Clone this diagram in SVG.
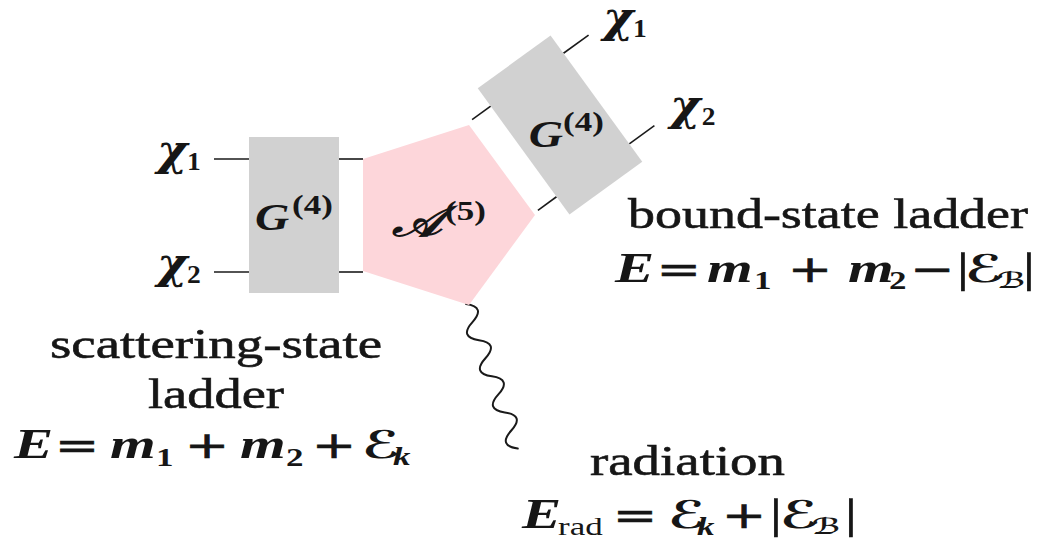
<svg xmlns="http://www.w3.org/2000/svg" width="1048" height="540" viewBox="0 0 1048 540">
<style>
.box{fill:#d1d1d1}
.amp{fill:#fdd6da}
.leg{stroke:#1a1a1a;stroke-width:1.6;fill:none}
.wave{stroke:#1a1a1a;stroke-width:2;fill:none;stroke-linecap:round}
text{fill:#161616}
.txt{font-family:'Liberation Serif',serif;font-size:43px;stroke:#161616;stroke-width:0.6}
.eq{font-family:'Liberation Serif',serif;font-size:42px}
.mi{font-family:'Liberation Serif',serif;font-style:italic;font-weight:bold}
.chi{font-family:'DejaVu Serif',serif;font-style:italic;font-weight:bold}
.op{font-family:'DejaVu Sans',sans-serif;font-weight:normal;font-style:normal;font-size:38px;stroke:#161616;stroke-width:0.6}
.sub{font-size:25px}
.cal{font-family:'DejaVu Serif','DejaVu Sans',serif;font-weight:bold;font-style:normal;font-size:38px}
.calsub{font-family:'DejaVu Serif','DejaVu Sans',serif;font-weight:bold;font-style:normal;font-size:22px}
.up{font-family:'Liberation Serif',serif;font-style:normal;font-weight:bold}
.rm{font-family:'Liberation Serif',serif;font-style:normal;font-weight:normal}
.bar{font-family:'Liberation Serif',serif;font-style:normal;font-weight:normal;stroke:#161616;stroke-width:0.6}
</style>
<g id="connectors">
<line class="leg" x1="214" y1="159" x2="249" y2="159"/>
<line class="leg" x1="214" y1="272" x2="249" y2="272"/>
<line class="leg" x1="339" y1="159" x2="363" y2="159"/>
<line class="leg" x1="339" y1="272" x2="363" y2="272"/>
<g transform="translate(560,125) rotate(-36)">
<line class="leg" x1="-68" y1="-56" x2="-45" y2="-56"/>
<line class="leg" x1="-68" y1="56" x2="-45" y2="56"/>
<line class="leg" x1="45" y1="-56" x2="76" y2="-56"/>
<line class="leg" x1="45" y1="56" x2="76" y2="56"/>
</g>
<path id="radiation-line" class="wave" transform="translate(466,304) rotate(70.3)" d="M0,0 q9.6,-18 19.2,0 t19.2,0 t19.2,0 t19.2,0 t19.2,0 t19.2,0 t19.2,0 t19.2,0"/>
</g>
<g id="G-left">
<rect class="box" x="249" y="137" width="90" height="156"/>
<text class="eq" transform="scale(1.25 1)"><tspan class="mi" x="204" y="230" font-size="38">G</tspan><tspan class="up" x="233.6" y="214" font-size="28">(4)</tspan></text>
</g>
<g id="amplitude">
<polygon class="amp" points="363,159 469,125 535,215 469,305 363,271"/>
<text class="eq" transform="scale(1.25 1)"><tspan class="mi" x="314" y="236" font-size="42">𝒜</tspan><tspan class="up" x="356" y="220" font-size="28">(5)</tspan></text>
</g>
<g id="G-right">
<rect class="box" transform="translate(560,125) rotate(-36)" x="-45" y="-78" width="90" height="156"/>
<text class="eq" transform="scale(1.25 1)"><tspan class="mi" x="423" y="147" font-size="38">G</tspan><tspan class="up" x="450.4" y="131" font-size="28">(4)</tspan></text>
</g>
<g id="particle-labels">
<text class="eq" transform="scale(1.1 1)"><tspan class="chi" x="142.7" y="165">χ</tspan><tspan class="up sub" x="170" y="170">1</tspan></text>
<text class="eq" transform="scale(1.1 1)"><tspan class="chi" x="142.7" y="278">χ</tspan><tspan class="up sub" x="170" y="283">2</tspan></text>
<text class="eq" transform="scale(1.1 1)"><tspan class="chi" x="548.2" y="32">χ</tspan><tspan class="up sub" x="575.5" y="37">1</tspan></text>
<text class="eq" transform="scale(1.1 1)"><tspan class="chi" x="609.1" y="120">χ</tspan><tspan class="up sub" x="638" y="125">2</tspan></text>
</g>
<g id="scattering-label">
<text class="txt" x="50" y="358" textLength="332" lengthAdjust="spacingAndGlyphs">scattering-state</text>
<text class="txt" x="148" y="408" textLength="136" lengthAdjust="spacingAndGlyphs">ladder</text>
<text class="eq" transform="scale(1.4 1)"><tspan class="mi" x="10" y="458">E</tspan><tspan class="op" x="39.1" y="458">=</tspan><tspan class="mi" x="78.6" y="458">m</tspan><tspan class="up sub" x="111.4" y="466">1</tspan><tspan class="op" x="131.9" y="458">+</tspan><tspan class="mi" x="171.4" y="458">m</tspan><tspan class="up sub" x="204.3" y="466">2</tspan><tspan class="op" x="222.6" y="458">+</tspan><tspan class="cal" x="258.6" y="458">ℰ</tspan><tspan class="mi sub" x="280.7" y="465">k</tspan></text>
</g>
<g id="bound-label">
<text class="txt" x="628" y="228" textLength="400" lengthAdjust="spacingAndGlyphs">bound-state ladder</text>
<text class="eq" transform="scale(1.4 1)"><tspan class="mi" x="439.3" y="282">E</tspan><tspan class="op" x="469" y="282">=</tspan><tspan class="mi" x="505" y="282">m</tspan><tspan class="up sub" x="538.6" y="289">1</tspan><tspan class="op" x="562.6" y="282">+</tspan><tspan class="mi" x="605.7" y="282">m</tspan><tspan class="up sub" x="635" y="289">2</tspan><tspan class="op" x="650" y="282">−</tspan><tspan class="bar" x="683.6" y="282">|</tspan><tspan class="cal" x="689.3" y="282">ℰ</tspan><tspan class="calsub" x="712.1" y="288">ℬ</tspan><tspan class="bar" x="730.7" y="282">|</tspan></text>
</g>
<g id="radiation-label">
<text class="txt" x="590" y="475" textLength="195" lengthAdjust="spacingAndGlyphs">radiation</text>
<text class="eq" transform="scale(1.4 1)"><tspan class="mi" x="372.9" y="528">E</tspan><tspan class="rm sub" x="398.6" y="535">rad</tspan><tspan class="op" x="437.6" y="528">=</tspan><tspan class="cal" x="477.1" y="528">ℰ</tspan><tspan class="mi sub" x="497.9" y="535">k</tspan><tspan class="op" x="515.5" y="528">+</tspan><tspan class="bar" x="550" y="528">|</tspan><tspan class="cal" x="557.1" y="528">ℰ</tspan><tspan class="calsub" x="580" y="534">ℬ</tspan><tspan class="bar" x="603.6" y="528">|</tspan></text>
</g>
</svg>
